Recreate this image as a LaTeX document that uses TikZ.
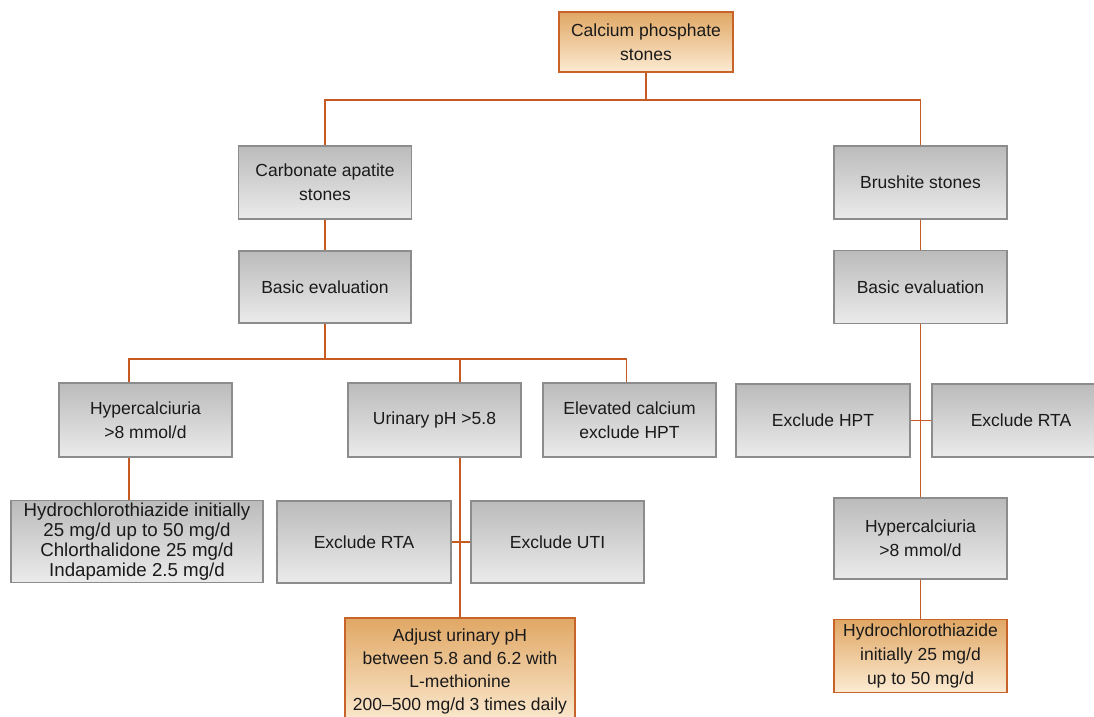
\documentclass[tikz,border=0pt]{standalone}
\usepackage{fontspec}
\setmainfont{Liberation Sans}
\definecolor{wire}{HTML}{C55A22}
\definecolor{greyedge}{HTML}{8C8C8C}
\definecolor{greytop}{HTML}{BBBBBB}
\definecolor{greybot}{HTML}{EBEBEB}
\definecolor{orangeedge}{HTML}{C8642A}
\definecolor{orangetop}{HTML}{E0A764}
\definecolor{orangebot}{HTML}{FCEBD3}
\definecolor{ink}{HTML}{1A1A1A}
\tikzset{
  greybox/.style={draw=greyedge, line width=1.6pt, top color=greytop, bottom color=greybot,
    text=ink, align=center, inner sep=0pt, font={\fontsize{17.5}{24}\selectfont}},
  orangebox/.style={draw=orangeedge, line width=1.6pt, top color=orangetop, bottom color=orangebot,
    text=ink, align=center, inner sep=0pt, font={\fontsize{17.5}{24}\selectfont}},
  boxsize/.style 2 args={minimum width=#1, minimum height=#2},
  wireline/.style={draw=wire, line width=1.8pt}
}
\begin{document}
\begin{tikzpicture}[x=1pt, y=-1pt]
\useasboundingbox (0,0) rectangle (1094,716);
\fill[white] (0,0) rectangle (1094,716);
\clip (0,0) rectangle (1094,716);

% top node
\node[orangebox, boxsize={174pt}{60pt}] (top) at (646,42) {Calcium phosphate\\stones};

% second level
\node[greybox, boxsize={173pt}{73pt}] (carb) at (325,182.5) {Carbonate apatite\\stones};
\node[greybox, boxsize={173pt}{73pt}] (brush) at (920.5,182.5) {Brushite stones};

% basic evaluation
\node[greybox, boxsize={172pt}{72pt}] (basicL) at (325,287) {Basic evaluation};
\node[greybox, boxsize={173pt}{73pt}] (basicR) at (920.5,287) {Basic evaluation};

% left branch, third level
\node[greybox, boxsize={173pt}{74pt}] (hyperL) at (145.5,420) {Hypercalciuria\\>8 mmol/d};
\node[greybox, boxsize={173pt}{74pt}] (urin) at (434.5,420) {Urinary pH >5.8};
\node[greybox, boxsize={173pt}{74pt}] (elev) at (629.5,420) {Elevated calcium\\exclude HPT};

% left branch, fourth level
\node[greybox, boxsize={252pt}{82pt}, font={\fontsize{18.7}{20}\selectfont}] (hydL) at (137,541.5)
  {Hydrochlorothiazide initially\\25 mg/d up to 50 mg/d\\Chlorthalidone 25 mg/d\\Indapamide 2.5 mg/d};
\node[greybox, boxsize={174pt}{82pt}] (exRTA) at (364,542) {Exclude RTA};
\node[greybox, boxsize={173pt}{82pt}] (exUTI) at (557.5,542) {Exclude UTI};

% left branch, treatment
\node[orangebox, boxsize={230pt}{107pt}, font={\fontsize{17.5}{23}\selectfont}] (adj) at (460,671.5)
  {Adjust urinary pH\\between 5.8 and 6.2 with\\L-methionine\\200–500 mg/d 3 times daily};

% right branch
\node[greybox, boxsize={174pt}{73pt}] (exHPT) at (823,420.5) {Exclude HPT};
\node[greybox, boxsize={178pt}{73pt}] (exRTAr) at (1021,420.5) {Exclude RTA};
\node[greybox, boxsize={173pt}{81pt}] (hyperR) at (920.5,538.5) {Hypercalciuria\\>8 mmol/d};
\node[orangebox, boxsize={173pt}{73pt}] (hydR) at (920.5,656) {Hydrochlorothiazide\\initially 25 mg/d\\up to 50 mg/d};

% bus coordinates
\coordinate (bus1) at (646,100);
\coordinate (bus2) at (325,359);

% connectors
\draw[wireline] (top.south) -- (bus1);
\draw[wireline] (carb.north) |- (bus1) -| (brush.north);
\draw[wireline] (carb.south) -- (basicL.north);
\draw[wireline] (basicL.south) -- (bus2);
\draw[wireline] ([xshift=-16.5pt]hyperL.north) |- (bus2) -| ([xshift=-3pt]elev.north);
\draw[wireline] (bus2 -| adj.north) -- (adj.north |- urin.north);
\draw[wireline] (adj.north |- urin.south) -- (adj.north);
\draw[wireline] ([xshift=-16.5pt]hyperL.south) -- ([xshift=-16.5pt]hyperL.south |- hydL.north);
\draw[wireline] (exRTA.east) -- (exUTI.west);

\draw[wireline] (brush.south) -- (basicR.north);
\draw[wireline] (basicR.south) -- (hyperR.north);
\draw[wireline] (exHPT.east) -- (exRTAr.west);
\draw[wireline] (hyperR.south) -- (hydR.north);
\end{tikzpicture}
\end{document}
